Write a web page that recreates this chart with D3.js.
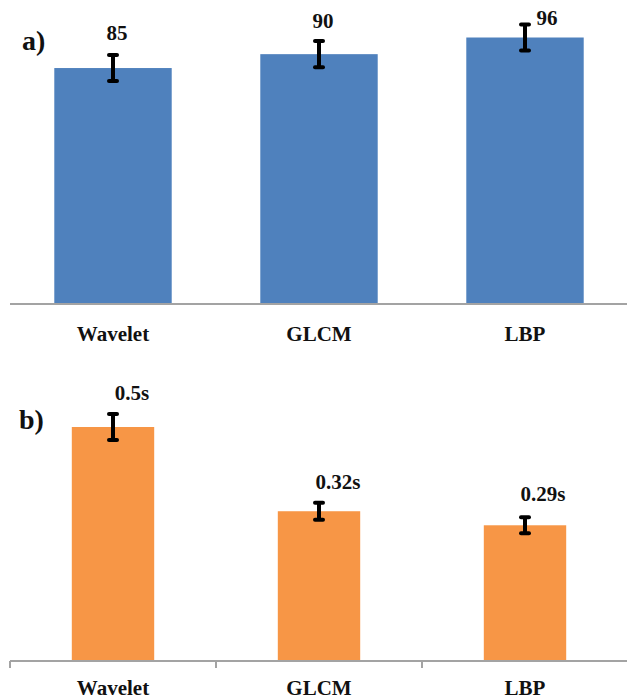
<!DOCTYPE html>
<html>
<head>
<meta charset="utf-8">
<script src="https://cdn.jsdelivr.net/npm/d3@7"></script>
<style>
  body { margin: 0; background: #fff; }
  svg text { font-family: 'Liberation Serif', 'DejaVu Serif', serif; font-weight: bold; fill: #111; }
</style>
</head>
<body>
<svg width="627" height="700"></svg>
<script>
// ---------------- data ----------------
const categories = ["Wavelet", "GLCM", "LBP"];
const accuracy = [85, 90, 96];
const accuracyErr = [4.7, 4.7, 4.7];
const accuracyLabels = ["85", "90", "96"];
const timeSec = [0.5, 0.32, 0.29];
const timeErr = [0.028, 0.018, 0.017];
const timeLabels = ["0.5s", "0.32s", "0.29s"];

// ---------------- layout ----------------
const svg = d3.select("svg");
const x = d3.scaleBand().domain(categories).range([10, 628]).padding(0);

function panel(opts) {
  const g = svg.append("g");
  const y = opts.y;
  const bw = x.bandwidth() * opts.barRatio;
  const rows = categories.map((c, i) => ({ c, v: opts.values[i], e: opts.errs[i], lab: opts.labels[i], i }));

  // bars
  g.selectAll("rect.bar").data(rows).enter().append("rect")
    .attr("class", "bar")
    .attr("x", d => x(d.c) + x.bandwidth() / 2 - bw / 2)
    .attr("width", bw)
    .attr("y", d => y(d.v))
    .attr("height", d => y(0) - y(d.v))
    .attr("fill", opts.color);

  // axis line
  g.append("line")
    .attr("x1", x.range()[0]).attr("x2", 627)
    .attr("y1", y(0)).attr("y2", y(0))
    .attr("stroke", "#a3a3a3").attr("stroke-width", 2);

  if (opts.ticks) {
    g.selectAll("line.tick").data(categories).enter().append("line")
      .attr("x1", d => x(d)).attr("x2", d => x(d))
      .attr("y1", y(0)).attr("y2", y(0) + 7)
      .attr("stroke", "#a3a3a3").attr("stroke-width", 2);
  }

  // category labels
  const ax = g.append("g")
    .attr("transform", "translate(0," + y(0) + ")")
    .call(d3.axisBottom(x).tickSize(0));
  ax.attr("font-family", null).attr("font-size", null);
  ax.select(".domain").remove();
  ax.selectAll("text")
    .attr("font-size", 21)
    .attr("dy", "0.71em")
    .attr("y", opts.catY);

  // error bars
  const cx = d => x(d.c) + x.bandwidth() / 2;
  const eb = g.selectAll("g.err").data(rows).enter().append("g").attr("class", "err");
  eb.append("line")
    .attr("x1", cx).attr("x2", cx)
    .attr("y1", d => y(d.v + d.e)).attr("y2", d => y(d.v - d.e))
    .attr("stroke", "#000").attr("stroke-width", 4);
  [1, -1].forEach(s => {
    eb.append("line")
      .attr("x1", d => cx(d) - 4).attr("x2", d => cx(d) + 4)
      .attr("y1", d => y(d.v + s * d.e)).attr("y2", d => y(d.v + s * d.e))
      .attr("stroke", "#000").attr("stroke-width", 4).attr("stroke-linecap", "round");
  });

  // value labels
  g.selectAll("text.val").data(rows).enter().append("text")
    .attr("class", "val")
    .attr("x", d => cx(d) + opts.labelDx[d.i])
    .attr("y", d => y(d.v + d.e) + opts.labelDy[d.i])
    .attr("text-anchor", "middle")
    .attr("font-size", 21)
    .text(d => d.lab);

  // panel tag
  g.append("text")
    .attr("x", opts.tagX).attr("y", opts.tagY)
    .attr("font-size", 28)
    .text(opts.tag);
}

panel({
  y: d3.scaleLinear().domain([0, 100]).range([304, 26.4]),
  values: accuracy, errs: accuracyErr, labels: accuracyLabels,
  color: "#4f81bd", barRatio: 0.57, ticks: false, catY: 22,
  labelDx: [4, 4, 22], labelDy: [-15, -13, 1],
  tag: "a)", tagX: 22, tagY: 50
});

panel({
  y: d3.scaleLinear().domain([0, 0.5]).range([661, 427]),
  values: timeSec, errs: timeErr, labels: timeLabels,
  color: "#f79646", barRatio: 0.40, ticks: true, catY: 19,
  labelDx: [19, 19, 18], labelDy: [-14, -14, -16],
  tag: "b)", tagX: 19, tagY: 429
});
</script>
</body>
</html>
